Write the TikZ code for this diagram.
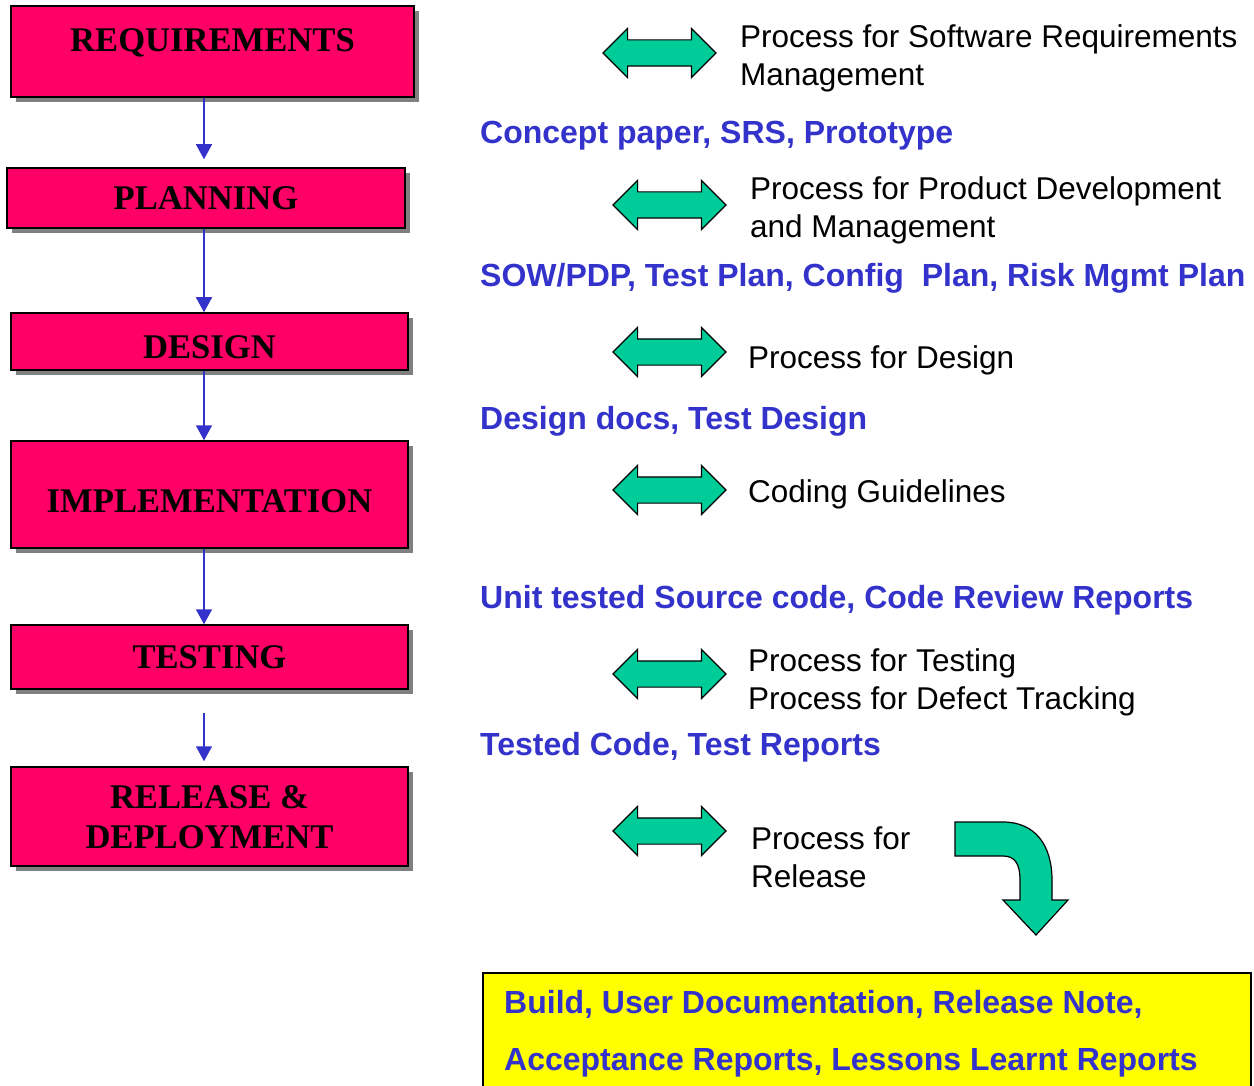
\documentclass[tikz,border=0pt]{standalone}
\usepackage{fontspec}
\setmainfont{Liberation Serif}
\newfontfamily\arialfont{Liberation Sans}
\usepackage{tikz}
\usetikzlibrary{positioning,arrows.meta,shapes.arrows,shadows}
\definecolor{stagepink}{HTML}{FF0066}
\definecolor{procgreen}{HTML}{00CC99}
\definecolor{docblue}{HTML}{3333CC}
\definecolor{outyellow}{HTML}{FFFF00}
\tikzset{
    x=1pt,
    y=-1pt,
    stage/.style = {
        draw,
        shape=rectangle,
        fill=stagepink,
        line width=1.5pt,
        inner sep=0pt,
        align=center,
        font=\bfseries\fontsize{34.6}{40}\selectfont,
        drop shadow={shadow xshift=5pt, shadow yshift=-5pt, fill=black!50, opacity=1}
    },
    proc/.style = {
        draw,
        shape=double arrow,
        fill=procgreen,
        line width=1.2pt,
        inner xsep=0pt,
        inner ysep=12.5pt,
        minimum height=113pt,
        minimum width=48pt,
        double arrow head extend=11.5pt,
        double arrow head indent=0pt
    },
    proctext/.style = {
        anchor=base west,
        align=left,
        inner sep=0pt,
        font=\arialfont\fontsize{31.5}{38}\selectfont
    },
    doc/.style = {
        anchor=base west,
        align=left,
        inner sep=0pt,
        text=docblue,
        font=\arialfont\bfseries\fontsize{32}{38}\selectfont
    },
    outbox/.style = {
        draw,
        shape=rectangle,
        fill=outyellow,
        line width=1.5pt,
        anchor=north west
    },
    turn/.style = {
        draw,
        fill=procgreen,
        line width=1.2pt
    },
    flow/.style = {
        draw,
        color=docblue,
        line width=1.5pt,
        ->
    },
    >={Triangle[width=16pt,length=15pt]},
}

\begin{document}
\begin{tikzpicture}
                \useasboundingbox (0,0) rectangle (1254,1086);
                \clip (0,0) rectangle (1254,1086);

                \node[stage, minimum width=403pt, minimum height=91pt, text depth=22pt] (req) at (212.5,51.5) {REQUIREMENTS};
                \node[stage, minimum width=398pt, minimum height=60pt] (plan) at (206,198) {PLANNING};
                \node[stage, minimum width=397pt, minimum height=57pt, text height=35pt] (des) at (209.5,341.5) {DESIGN};
                \node[stage, minimum width=397pt, minimum height=107pt, text height=37pt] (impl) at (209.5,494.5) {IMPLEMENTATION};
                \node[stage, minimum width=397pt, minimum height=64pt] (test) at (209.5,657) {TESTING};
                \node[stage, minimum width=397pt, minimum height=99pt, text depth=-9pt] (rel) at (209.5,816.5) {RELEASE \&\\DEPLOYMENT};

                \coordinate (ax) at (204,0);
                \coordinate (reltop) at (204,713);
                \path[flow, shorten >=8pt] (req.south -| ax) -- (plan.north -| ax);
                \path[flow] (plan.south -| ax) -- (des.north -| ax);
                \path[flow] (des.south -| ax) -- (impl.north -| ax);
                \path[flow] (impl.south -| ax) -- (test.north -| ax);
                \path[flow, shorten >=5pt] (reltop) -- (rel.north -| ax);

                % process arrows
                \node[proc] (preq) at (659.5,53) {};
                \node[proc] (pplan) at (669.5,205) {};
                \node[proc] (pdes) at (669.5,352) {};
                \node[proc] (pimpl) at (669.5,490) {};
                \node[proc] (ptest) at (669.5,674) {};
                \node[proc] (prel) at (669.5,831) {};

                \node[proctext] (treq) at (740,86) {Process for Software Requirements\\Management};
                \node[proctext] (tplan) at (750,238) {Process for Product Development\\and Management};
                \node[proctext] (tdes) at (748,368) {Process for Design};
                \node[proctext] (timpl) at (748,502) {Coding Guidelines};
                \node[proctext] (ttest) at (748,709) {Process for Testing\\Process for Defect Tracking};
                \node[proctext] (trel) at (751,887) {Process for\\Release};

                % outputs
                \node[doc] (oreq) at (480,144) {Concept paper, SRS, Prototype};
                \node[doc] (oplan) at (480,287) {SOW/PDP, Test Plan, Config\ \ Plan, Risk Mgmt Plan};
                \node[doc] (odes) at (480,429) {Design docs, Test Design};
                \node[doc] (oimpl) at (480,608) {Unit tested Source code, Code Review Reports};
                \node[doc] (otest) at (480,755) {Tested Code, Test Reports};

                \path[turn] (955,822) -- (1003,822) .. controls (1035,822) and (1052,845) .. (1052,880)
                    -- (1052,900) -- (1068,900) -- (1036,935) -- (1003,900) -- (1020,900) -- (1020,880)
                    .. controls (1020,864) and (1015,856) .. (1003,856) -- (955,856) -- cycle;

                \node[outbox, minimum width=768pt, minimum height=140pt] (out) at (482,972) {};
                \node[doc, font=\arialfont\bfseries\fontsize{32}{57}\selectfont] (otext) at (504,1070)
                {Build, User Documentation, Release Note,\\Acceptance Reports, Lessons Learnt Reports};
            \end{tikzpicture}
\end{document}
